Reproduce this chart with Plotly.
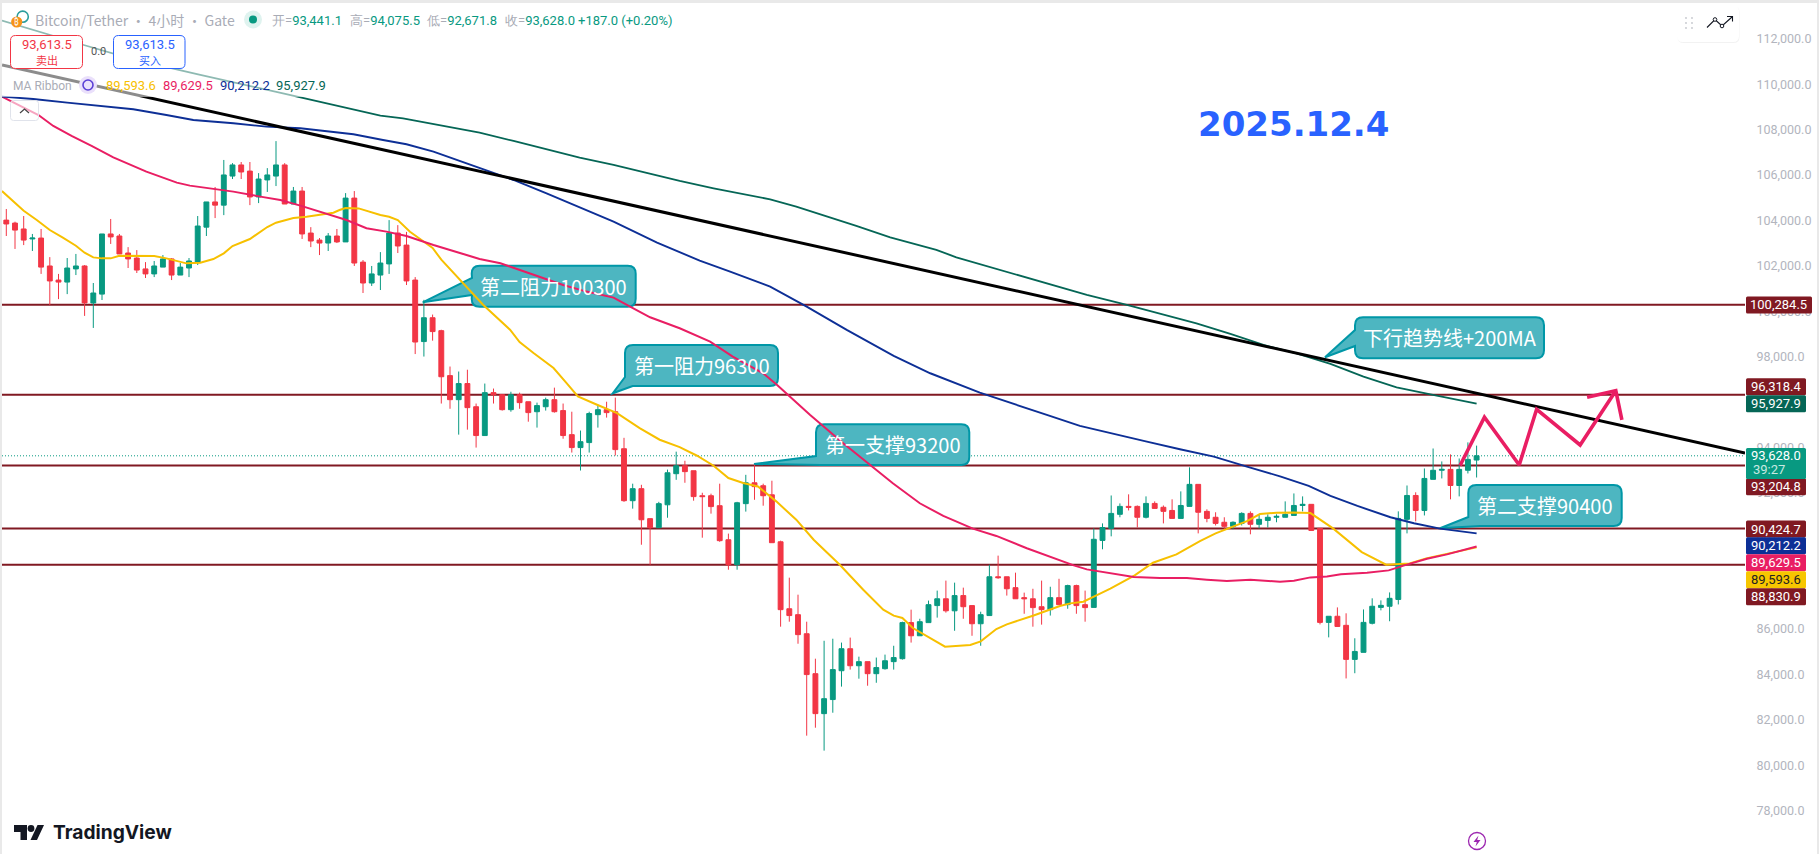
import plotly.graph_objects as go

# ---------- candle data (4h BTC/USDT) ----------
candle_index = list(range(170))
opens = [104010,103880,103620,103180,103220,101990,101370,101280,101860,101990,
100360,100750,103400,103310,102560,102340,101860,101640,101940,102300,
101590,101900,102160,103700,104810,104670,105950,106440,106170,105030,
105780,105950,106440,104720,105290,103440,103130,103000,103310,103050,
104980,102160,101240,101590,102080,103440,102910,101370,98660,99710,
99140,97160,96100,96810,95790,94520,96410,96320,95660,96320,
96010,95570,95790,96100,95620,94560,93990,94210,95440,95660,
95570,93940,91650,92180,90860,90460,91470,92840,93190,92970,
91870,91870,91430,89930,88830,91520,92440,92310,91910,89840,
86890,86630,85790,84030,82270,82890,84160,85130,84380,84560,
84030,84250,84560,84690,86280,85700,86280,87030,87330,86800,
87470,87030,86230,86590,88300,88300,87820,87380,87330,86980,
86850,87380,87070,87910,87070,86950,89900,90430,91050,91400,
91400,90920,91530,91360,91220,90870,91400,92370,91180,90920,
90700,90520,90650,91090,90610,90780,90920,90920,91000,91440,
91490,90430,86290,86560,86160,84660,84970,86250,86950,87000,
87300,90830,91880,91220,92590,92990,93030,92320,92990,93441.1]
highs = [104500,103940,104190,103400,103620,102380,101640,102340,102520,102030,
101240,103400,104060,103400,102820,102690,102160,102210,102470,102340,
102120,102340,104190,104810,105470,106660,106520,106570,106570,106080,
106300,107490,106520,105470,105470,103700,103220,103440,103620,105200,
105290,102250,101990,102600,104010,103790,103490,101500,100500,99850,
99180,97560,97340,97420,95930,96810,96590,96320,96450,96410,
96010,95970,96190,96630,95930,95570,94740,95570,95880,96010,
96190,94420,92400,92350,90860,91600,93020,93810,93410,92970,
92000,91960,92400,90200,91600,92790,93230,92400,92530,89890,
88260,87510,86320,84690,85480,85570,85400,85620,84780,84560,
84740,84870,85260,86320,86850,86450,87250,87690,88130,88040,
87820,87030,86760,88830,89230,88300,88480,87600,87770,88130,
87860,88210,87950,87950,87690,90430,90650,91880,91530,91930,
91440,91840,91620,91440,91710,92060,93120,92370,91270,91140,
90920,90740,91140,91180,91050,91050,91050,91620,91970,91840,
91490,90430,86560,86950,86690,85590,86860,87350,87260,87610,
91180,92320,92020,93070,93950,93380,93690,93510,94220,94075.5]
lows = [103310,102740,102910,102650,101640,100270,100530,100750,101590,99790,
99260,100490,102960,102520,101900,101680,101460,101500,101940,101370,
101590,101500,102030,103310,104100,104230,105820,105820,104670,104760,
105250,105510,104720,104720,103180,102820,102470,102650,103000,103050,
101990,100800,101110,100930,101640,102560,101150,98110,98000,98700,
95930,95700,94560,94780,93990,94520,95930,95620,95570,95700,
95130,94870,95620,95530,94380,93770,92980,93770,94870,95310,
93640,91600,91300,89710,88830,90460,90900,92570,92440,91650,
90020,91080,89840,88610,88610,91170,91690,91430,89800,86100,
86320,85350,81300,81650,80640,82310,83460,84210,83810,83500,
83630,84210,84210,84650,85400,85700,86280,86500,86720,85920,
86450,85700,85260,86590,88210,87470,87330,86670,86100,86190,
86590,87070,86890,86670,86320,86950,89510,90080,90920,91220,
90470,90870,91310,90650,90870,90870,91400,90210,90700,90560,
90390,90390,90560,90170,90430,90470,90700,90920,91000,91180,
90340,86200,85630,86110,83820,84050,84970,86200,86820,86340,
87080,90210,90740,91000,92590,92630,91710,91840,92850,92671.8]
closes = [103840,103570,103130,103220,101940,101330,101280,101900,101990,100360,
100800,103400,103270,102520,102300,101810,101640,101990,102300,101590,
101940,102210,103750,104810,104670,106000,106440,106130,105030,105820,
106000,106440,104720,105290,103400,103090,103000,103310,103050,104980,
102120,101240,101640,102120,103440,102870,101330,98640,99710,99100,
97110,96100,96810,95750,94520,96410,96320,95660,96320,95970,
95530,95840,96100,95570,94520,93990,94250,95490,95660,95530,
93900,91650,92180,90810,90460,91520,92880,93190,92930,91830,
91830,91390,89890,88830,91560,92440,92270,91870,89800,86850,
86590,85750,83990,82270,82930,84210,85130,84380,84560,84030,
84300,84600,84740,86280,85700,86320,87070,87330,86800,87470,
86980,86230,86630,88300,88260,87770,87330,87330,86940,86850,
87380,87070,87910,87030,86940,89950,90470,91090,91400,91360,
90920,91530,91310,91180,90870,91440,92370,91140,90870,90650,
90520,90700,91090,90610,90830,90920,90960,91050,91440,91490,
90340,86290,86560,86110,84660,85010,86290,87000,87040,87350,
90870,91880,91220,92630,92990,93030,92320,93030,93470,93628]

# ---------- MA ribbon readings: (candle position, price) ----------
ma_yellow_pos = [-0.5,2,3.5,5,6.5,8,9,10,11,12,13,14.6,17,18.4,20.7,22.3,23.8,25,26,28,30,31,32,33,34.5,37.6,38.3,39,40.5,41.4,43,44,45,46.4,47.5,49,
50,52.1,54.8,57.9,59,60.6,62.9,64.4,65.7,67.9,70.2,72.8,75.1,77.4,79.4,81.3,83,84.7,86.4,88.5,90.8,92.8,95.8,98.5,100.8,102,103,104.2,105.8,107.9,110.8,112,113.8,115,118,121.1,122.3,123.8,125.3,126.9,129.7,131.8,134.5,137.2,139,141,142.6,144.1,146,147.9,149.9,152.5,155.8,158.6,161.3,163.2,169]
ma_yellow = [105290,104425,104013,103573,103235,102883,102575,102369,102325,102325,102443,102428,102428,102325,102105,102134,102296,102545,102868,103177,103705,103896,103984,104101,104160,104336,104454,104542,104527,104425,104234,104160,104013,103500,103206,102782,
102267,101386,100285,99184,98641,98157,97496,96831,96244,95877,95510,94850,94336,94013,93631,93191,92648,92427,92280,91620,90813,89932,88831,87730,86849,86585,86482,86042,85675,85220,85293,85455,85998,86203,86585,87010,87127,87201,87480,87773,88361,88918,89285,89873,90210,90504,90753,91062,91120,91135,91106,90430,89388,88830,88889,89109,89593.6]

ma_pink_pos = [-0.5,3.7,5.4,7.5,9.8,12.3,16.1,19.6,21.1,23.8,26.1,29.2,31.5,33.8,36.8,39.1,41.4,43.7,46,49.1,52.9,
54.4,56.8,60.2,64,66.7,69.8,71.7,74,77.4,80.9,83.5,87,88.6,92.4,96.2,99.3,101.9,105,107.7,111.1,113.8,117.3,121.1,122.7,124.2,126.5,129.6,132.6,135.7,138,140.3,143,146.4,148,149.9,151.8,153.4,156.4,158.9,160.7,163.3,165.6,169]
ma_pink = [109449,108641,108157,107716,107276,106777,106146,105661,105529,105397,105265,105045,104898,104648,104281,104017,103650,103503,103313,102916,102476,
102299,102108,101668,101154,100861,100596,100200,99730,99246,98659,97998,97264,96748,95427,94179,93225,92418,91537,90979,90421,90098,89555,89021,88801,88625,88478,88287,88243,88243,88170,88111,88170,88082,88126,88272,88316,88405,88478,88581,88801,89095,89285,89629.5]

ma_blue_pos = [-0.5,3.1,7,10.8,14.6,18.4,21.5,26.1,29.9,33.8,37.6,39.9,43.3,46,49.1,52.9,
54.4,58.3,62.1,65.9,69.8,74.8,79.7,83.2,87.8,92,96.6,102,106.2,111.9,115.7,119.6,123.4,127.2,131.1,134.9,138.8,142.6,146.5,149.7,152.2,155.3,159.1,161.8,164.8,169]
ma_blue = [109449,109346,109185,109038,108891,108641,108421,108274,108128,108054,107907,107790,107540,107350,107027,106513,
106322,105778,105191,104575,103943,103019,102226,101741,101081,100200,99172,98027,97264,96412,95942,95428,94943,94591,94254,93916,93593,93153,92713,92301,91861,91420,90921,90657,90422,90212.2]

ma_green_pos = [-0.5,4.3,8.9,14.6,22.3,31.8,37.6,43,45.6,51.8,54.4,58.3,62.1,65.9,69.8,73.6,77.4,81.3,85.1,87.8,90.8,94.7,97.7,101.6,104.3,106.9,109.2,111.9,115.7,119.6,124.2,128.8,133,136.8,140.7,144.5,148.3,152.2,156,159.8,163.7,169]
ma_green = [112796,112238,111724,111093,110403,109596,109082,108612,108495,108054,107863,107496,107129,106762,106439,106072,105734,105411,105147,104927,104604,104134,103753,103253,102960,102696,102373,102078,101667,101227,100713,100272,99832,99465,98995,98511,98144,97674,97116,96646,96338,95927.9]

# ---------- drawings ----------
trend_pos = [-0.49, 199.85]
trend_price = [110843, 93750]
path_pos = [167.1,169.9,173.9,175.9,180.9,185.0]
path_price = [93200,95324,93225,95676,94105,96498]
arrow_head_pos = [181.7,185.0,185.7]
arrow_head_price = [96205,96498,95206]

level_prices = [100284.5, 96318.4, 93204.8, 90424.7, 88830.9]
last_price = 93628.0
price_ticks = list(range(78000, 114000, 2000))

level_tags = [("100,284.5",305,"#801922","white",66),("96,318.4",386.7,"#801922","white",60),
              ("95,927.9",403.7,"#056656","white",60),("93,204.8",486.7,"#801922","white",60),
              ("90,424.7",529,"#801922","white",60),("90,212.2",545.7,"#0d2f96","white",60),
              ("89,629.5",562.7,"#e91e63","white",60),("89,593.6",579.7,"#f7c600","#222222",60),
              ("88,830.9",596.7,"#801922","white",60)]

callouts = [
 ("第二阻力100300",(471.7,265.7,635.7,306.7),(422.7,302.3),(472,278),(472,295)),
 ("第一阻力96300",(625,345,778,386),(612.7,393.3),(625,377),(632.7,386)),
 ("第一支撑93200",(816,424.3,969.3,465),(754,464),(816,456),(821,465)),
 ("下行趋势线+200MA",(1355,317.3,1544,358.3),(1325,357.3),(1355,330),(1355,346)),
 ("第二支撑90400",(1468.3,485,1621.7,526),(1440,528.3),(1468.3,517),(1480,526)),
]

# ---------- frame ----------
W, H = 1819, 854
L, R, T, B = 2, 1745, 3, 854
def X(p): return (p - L) / (R - L)
def Y(p): return 1 - (p - T) / (B - T)
TXT = "Noto Sans CJK SC, Noto Sans, sans-serif"
NUM = "Roboto, Noto Sans, sans-serif"

def rr(x0, y0, x1, y1, r):
    return (f"M{X(x0+r)},{Y(y0)} L{X(x1-r)},{Y(y0)} Q{X(x1)},{Y(y0)} {X(x1)},{Y(y0+r)} "
            f"L{X(x1)},{Y(y1-r)} Q{X(x1)},{Y(y1)} {X(x1-r)},{Y(y1)} L{X(x0+r)},{Y(y1)} "
            f"Q{X(x0)},{Y(y1)} {X(x0)},{Y(y1-r)} L{X(x0)},{Y(y0+r)} Q{X(x0)},{Y(y0)} {X(x0+r)},{Y(y0)} Z")

def bubble(box, tip, a1, a2, r=8):
    x0, y0, x1, y1 = box
    d = (f"M{X(x0+r)},{Y(y0)} L{X(x1-r)},{Y(y0)} Q{X(x1)},{Y(y0)} {X(x1)},{Y(y0+r)} "
         f"L{X(x1)},{Y(y1-r)} Q{X(x1)},{Y(y1)} {X(x1-r)},{Y(y1)} ")
    if a2[1] < y1 - 0.5:
        d += f"L{X(x0+r)},{Y(y1)} Q{X(x0)},{Y(y1)} {X(x0)},{Y(y1-r)} "
    d += (f"L{X(a2[0])},{Y(a2[1])} L{X(tip[0])},{Y(tip[1])} L{X(a1[0])},{Y(a1[1])} "
          f"L{X(x0)},{Y(y0+r)} Q{X(x0)},{Y(y0)} {X(x0+r)},{Y(y0)} Z")
    return d

fig = go.Figure()

def ma(pos, val, color, width=2.0):
    fig.add_trace(go.Scatter(x=pos, y=val, mode="lines", line=dict(color=color, width=width),
                             hoverinfo="skip", showlegend=False))

fig.add_trace(go.Candlestick(x=candle_index, open=opens, high=highs, low=lows, close=closes,
    increasing=dict(line=dict(color="#089981", width=1), fillcolor="#089981"),
    decreasing=dict(line=dict(color="#f23645", width=1), fillcolor="#f23645"),
    hoverinfo="skip", showlegend=False))
ma(ma_yellow_pos, ma_yellow, "#f7c000")
ma(ma_pink_pos, ma_pink, "#e91e63")
ma(ma_blue_pos, ma_blue, "#0d2f96", 1.9)
ma(ma_green_pos, ma_green, "#056656", 1.8)
ma(trend_pos, trend_price, "#000000", 3)
ma(path_pos, path_price, "#e91e63", 3.6)
ma(arrow_head_pos, arrow_head_price, "#e91e63", 3.6)

shapes, notes = [], []
GREY = "#e9e9e9"
for p in level_prices:
    shapes.append(dict(type="line", xref="paper", yref="y", x0=0, x1=1, y0=p, y1=p,
                       line=dict(color="#801922", width=2), layer="below"))
shapes.append(dict(type="line", xref="paper", yref="y", x0=0, x1=1, y0=last_price, y1=last_price,
                   line=dict(color="#089981", width=1, dash="1px,2px"), layer="below"))
for text, box_, tip, a1, a2 in callouts:
    shapes.append(dict(type="path", xref="paper", yref="paper", path=bubble(box_, tip, a1, a2),
                       fillcolor="#4db6c1", line=dict(color="#0097a7", width=2), layer="below"))
    notes.append(dict(text=text, x=X((box_[0]+box_[2])/2), y=Y((box_[1]+box_[3])/2), font=dict(size=20, color="white", family=TXT)))

def txt(s, px, py, color, size=13, anchor="left", family=NUM, **kw):
    notes.append(dict(text=s, x=X(px), y=Y(py), xanchor=anchor, font=dict(size=size, color=color, family=family), **kw))

def box(x0, y0, x1, y1, fill, line=None, r=0, lw=1, layer="above", opacity=1):
    shapes.append(dict(type="path", xref="paper", yref="paper", path=rr(x0, y0, x1, y1, r) if r else
                       f"M{X(x0)},{Y(y0)} L{X(x1)},{Y(y0)} L{X(x1)},{Y(y1)} L{X(x0)},{Y(y1)} Z",
                       fillcolor=fill, opacity=opacity,
                       line=dict(color=line or "rgba(0,0,0,0)", width=lw if line else 0), layer=layer))

def circ(cx, cy, rad, fill, line=None, lw=1):
    shapes.append(dict(type="circle", xref="paper", yref="paper", x0=X(cx-rad), x1=X(cx+rad),
                       y0=Y(cy+rad), y1=Y(cy-rad), fillcolor=fill,
                       line=dict(color=line or "rgba(0,0,0,0)", width=lw if line else 0), layer="above"))

def poly(pts, fill=None, line=None, lw=1, close=True):
    d = "M" + " L".join(f"{X(a)},{Y(b)}" for a, b in pts) + (" Z" if close else "")
    shapes.append(dict(type="path", xref="paper", yref="paper", path=d,
                       fillcolor=fill or "rgba(0,0,0,0)",
                       line=dict(color=line or "rgba(0,0,0,0)", width=lw if line else 0), layer="above"))

# page frame
box(-2, -1, 1819, 3, GREY)
box(0, -1, 2, 854, GREY)
box(1817, -1, 1819, 854, GREY)

# veil behind the header legend
box(2, 9, 335, 97, "white", opacity=0.55)

# header
circ(22.7, 16.7, 5.6, "white", "#2a9d9d", 1.6)
circ(16.7, 22, 5.6, "#f7931a")
txt("₿", 16.7, 22, "white", 8, "center")
GRAYTXT = "#a9acb6"
txt("Bitcoin/Tether · 4小时 · Gate", 33, 20, GRAYTXT, 14, family=TXT)
circ(253, 19.5, 9, "#dff3ef")
circ(253, 19.5, 4, "#089981")
G = "#089981"
for label, value, px in [("开", "93,441.1", 270), ("高", "94,075.5", 347.5), ("低", "92,671.8", 425), ("收", "93,628.0", 502.5)]:
    txt(f"<span style='color:{GRAYTXT}'>{label}=</span>{value}", px, 20, G, 13)
txt("+187.0 (+0.20%)", 576, 20, G, 13)

# sell / buy
box(10.5, 35.5, 82.5, 68.5, "white", "#f23645", 5)
box(113.5, 35.5, 185, 68.5, "white", "#2962ff", 5)
txt("93,613.5", 46.5, 44.5, "#f23645", 13, "center")
txt("卖出", 46.5, 59.5, "#f23645", 11, "center", TXT)
txt("93,613.5", 149.5, 44.5, "#2962ff", 13, "center")
txt("买入", 149.5, 59.5, "#2962ff", 11, "center", TXT)
txt("0.0", 98, 51.5, "#555555", 11, "center")

# MA ribbon legend
txt("MA Ribbon", 11, 85.5, GRAYTXT, 12)
circ(88, 85, 9, "#eae0fb")
circ(88, 85, 5, "rgba(0,0,0,0)", "#5b3fd6", 1.6)
for s, px, c in [("89,593.6", 104, "#f7c000"), ("89,629.5", 161, "#e91e63"), ("90,212.2", 218, "#0d2f96"), ("95,927.9", 274, "#056656")]:
    txt(s, px, 85.5, c, 13)
box(10.5, 100.5, 38.5, 120.5, "rgba(255,255,255,0.6)", "#e0e3eb", 3)
poly([(20, 113), (24.5, 109), (29, 113)], line="#444444", lw=1.2, close=False)

# date stamp
txt("<b>2025.12.4</b>", 1293.5, 124, "#2962ff", 34, "center", "DejaVu Sans")

# floating tool box
box(1677.5, 6, 1739.5, 43, "rgba(0,0,0,0.05)", None, 6)
box(1677, 5, 1739, 42, "white", None, 6)
for yy in (18, 23, 28):
    for xx in (1686, 1692):
        circ(xx, yy, 0.9, "#c4c6cc")
poly([(1707, 27.5), (1715, 19.5), (1722, 26), (1732, 17)], line="#131722", lw=1.1, close=False)
poly([(1727, 16.5), (1732.5, 16.5), (1732.5, 21.5)], line="#131722", lw=1.1, close=False)
circ(1715, 19.5, 1.8, "white", "#131722", 1)
circ(1722, 26, 1.8, "white", "#131722", 1)

# right axis tags
for s, py, bg, fg, w in level_tags:
    box(1746, py-8.5, 1746+w, py+8.5, bg, None, 1.5)
    txt(s, 1746+w/2, py, fg, 13, "center")
box(1746, 448, 1806, 479, "#089981", None, 1.5)
txt("93,628.0", 1776, 455.7, "white", 13, "center")
txt("39:27", 1769, 469.7, "#c8e9e2", 13, "center")

# TradingView mark
poly([(14, 825), (27, 825), (27, 840), (20.5, 840), (20.5, 832), (14, 832)], fill="#131722")
circ(31, 828.5, 3.4, "#131722")
poly([(37.5, 825), (44, 825), (37, 840), (30.5, 840)], fill="#131722")
txt("<b>TradingView</b>", 51, 832, "#131722", 19.2, "left", "Inter")

# lightning badge
circ(1477, 841, 8.5, "white", "#9c27b0", 1.3)
poly([(1478.5, 835.5), (1473.5, 842), (1476.8, 842), (1475.5, 846.5), (1480.5, 840), (1477.2, 840)], fill="#9c27b0")

for n in notes:
    n.update(xref="paper", yref="paper", showarrow=False, yanchor="middle")
    n.setdefault("xanchor", "center")

fig.update_layout(
    width=W, height=H, autosize=False,
    margin=dict(l=L, r=W-R, t=T, b=H-B, pad=0),
    paper_bgcolor="white", plot_bgcolor="white", boxgap=0.2,
    xaxis=dict(type="linear", range=[-0.494, 199.85], visible=False, rangeslider=dict(visible=False), fixedrange=True),
    yaxis=dict(range=[76087, 113574], side="right", tickvals=price_ticks,
               ticktext=[f"{t:,.1f}" for t in price_ticks], showgrid=False, zeroline=False, showline=False,
               ticks="outside", ticklen=8, tickcolor="white", tickfont=dict(size=12.5, color="#b2b5be", family=NUM), fixedrange=True),
    shapes=shapes, annotations=notes, showlegend=False, hovermode=False,
)

fig.write_html("out.html", config=dict(displayModeBar=False),
               post_script="document.body.style.margin='0';document.body.style.overflow='hidden';")
